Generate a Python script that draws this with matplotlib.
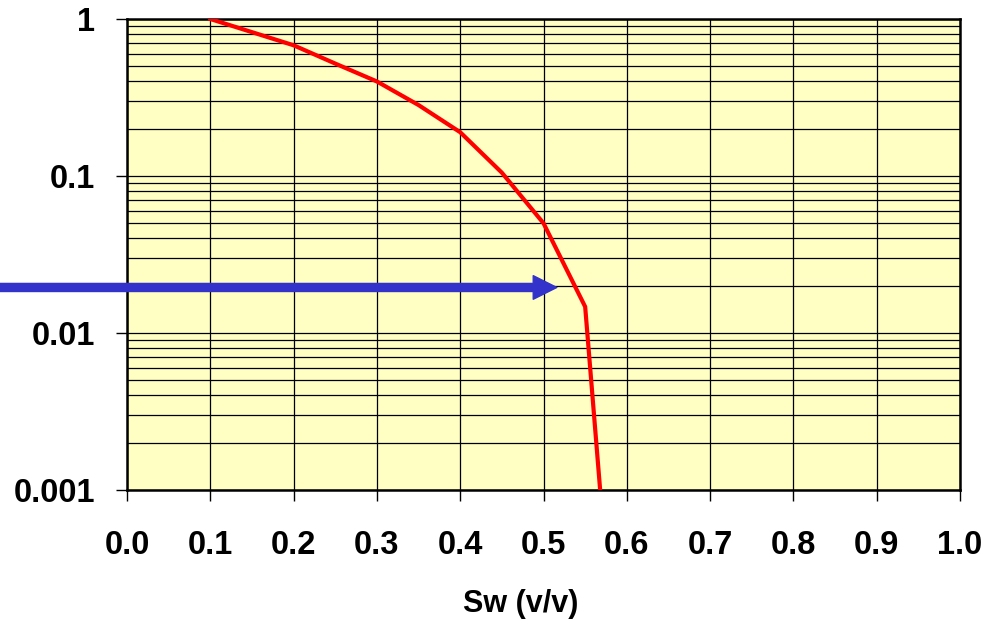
import matplotlib
matplotlib.use("Agg")
import matplotlib.pyplot as plt
import numpy as np
from matplotlib.ticker import LogLocator, NullFormatter

# valeurs
sw = [0.1, 0.2, 0.25, 0.3, 0.35, 0.4, 0.45, 0.5, 0.55, 0.568]
val = [1.0, 0.68, 0.52, 0.40, 0.283, 0.19, 0.105, 0.050, 0.0147, 0.001]

# fleche bleue
arrow_y = 0.0195
arrow_x_end = 0.516

x_ticks = [0.0, 0.1, 0.2, 0.3, 0.4, 0.5, 0.6, 0.7, 0.8, 0.9, 1.0]
x_labels = ["0.0", "0.1", "0.2", "0.3", "0.4", "0.5", "0.6", "0.7", "0.8", "0.9", "1.0"]
y_ticks = [0.001, 0.01, 0.1, 1]
y_labels = ["0.001", "0.01", "0.1", "1"]

plt.rcParams['font.family'] = ['Liberation Sans', 'DejaVu Sans']

fig = plt.figure(figsize=(9.97, 6.27), dpi=100)
ax = fig.add_axes([0.1274, 0.2185, 0.8355, 0.7512])
ax.set_facecolor('#FFFFC4')

ax.plot(sw, val, color='#FF0000', lw=3.0, zorder=3, solid_joinstyle='miter')

ax.set_yscale('log')
ax.set_xlim(0, 1)
ax.set_ylim(0.001, 1)

ax.set_xticks(x_ticks)
ax.set_xticklabels(x_labels)
ax.set_yticks(y_ticks)
ax.set_yticklabels(y_labels)
ax.yaxis.set_minor_locator(LogLocator(base=10, subs=np.arange(2, 10)))
ax.yaxis.set_minor_formatter(NullFormatter())

ax.grid(True, which='major', axis='both', color='black', lw=0.9)
ax.grid(True, which='minor', axis='y', color='black', lw=0.9)
ax.set_axisbelow(True)

ax.tick_params(axis='both', which='major', direction='out', length=8, width=1,
               labelsize=23.5)
ax.tick_params(axis='y', which='major', pad=15)
ax.tick_params(axis='x', which='major', pad=21)
ax.tick_params(axis='y', which='minor', length=0)
for lab in ax.get_xticklabels() + ax.get_yticklabels():
    lab.set_fontweight('bold')

for s in ax.spines.values():
    s.set_linewidth(1.8)
    s.set_color('black')

ax.set_xlabel('Sw (v/v)', fontsize=22, fontweight='bold')
ax.xaxis.set_label_coords(0.473, -0.21)

# fleche depuis le bord gauche de la figure
ax.annotate('', xy=(arrow_x_end, arrow_y), xycoords='data',
            xytext=(0, arrow_y), textcoords=('figure fraction', 'data'),
            arrowprops=dict(arrowstyle='simple,head_length=1.7,head_width=1.7,tail_width=0.58',
                            color='#3333CC', mutation_scale=10, shrinkA=0, shrinkB=0),
            annotation_clip=False, zorder=5)

fig.savefig('out.png', dpi=100)
